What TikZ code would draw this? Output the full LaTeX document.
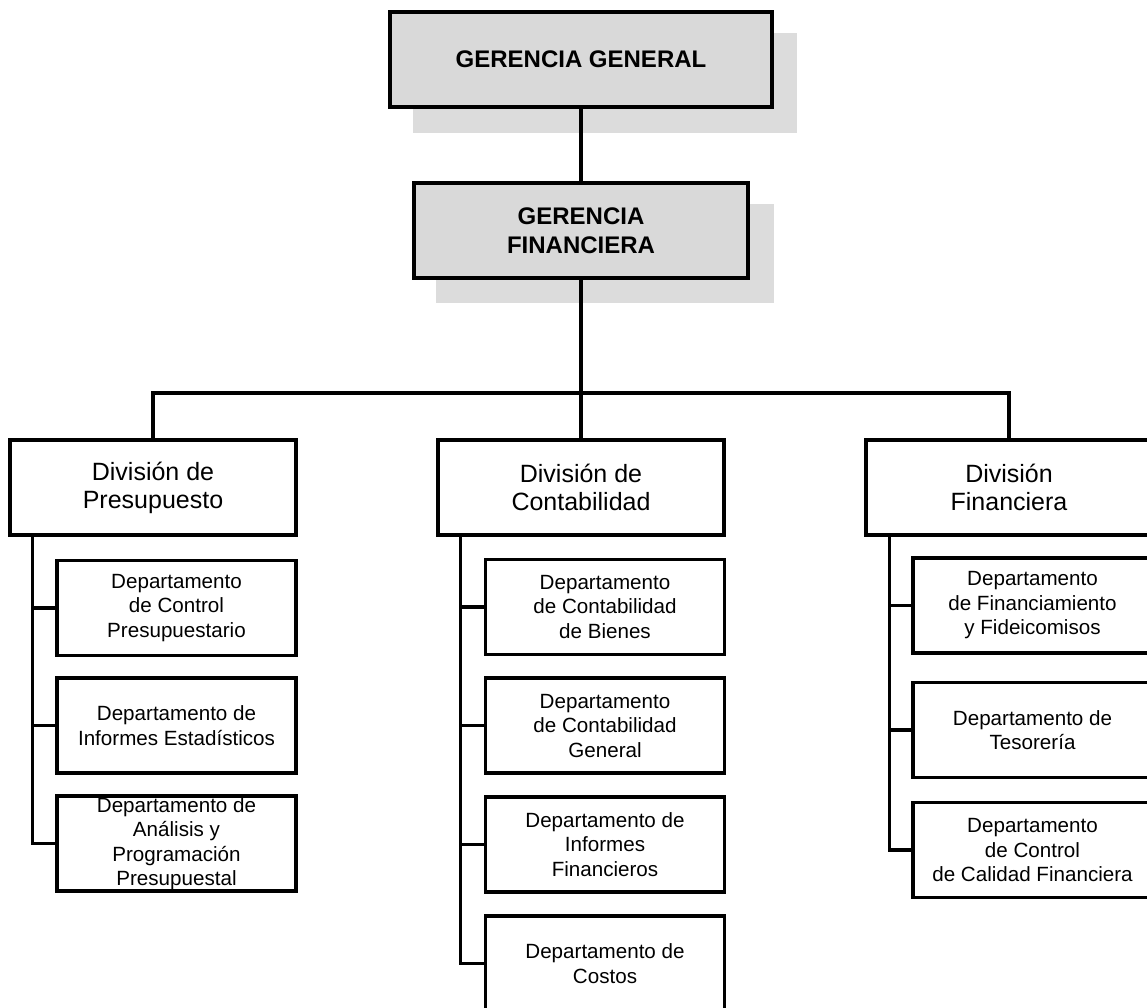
\documentclass[tikz,border=0pt]{standalone}
\usepackage{fontspec}
\setmainfont{Liberation Sans}
\usetikzlibrary{calc}
\definecolor{boxgray}{HTML}{D9D9D9}
\definecolor{shadowgray}{HTML}{DCDCDC}
\tikzset{
  line/.style={line width=3.3pt},
  gerbox/.style={draw, line width=3.3pt, fill=boxgray, inner sep=0pt, align=center,
    font=\fontsize{24}{29}\selectfont\bfseries},
  divbox/.style={draw, line width=3.3pt, fill=white, inner sep=0pt, align=center,
    minimum width=286pt, minimum height=95pt, font=\fontsize{25}{28}\selectfont},
  deptbox/.style={draw, line width=3.3pt, fill=white, inner sep=0pt, align=center,
    minimum width=239pt, minimum height=95pt, font=\fontsize{20.6}{24.5}\selectfont},
}
\begin{document}
\begin{tikzpicture}[x=1pt,y=-1pt]
\useasboundingbox (0,0) rectangle (1147,1007);
\clip (0,0) rectangle (1147,1007);
% shadows
\fill[shadowgray] (413,33) rectangle (797,133);
\fill[shadowgray] (436,204) rectangle (774,303);
% top boxes
\node[gerbox, minimum width=382pt, minimum height=95pt] (gg) at (581,59.5) {GERENCIA GENERAL};
\node[gerbox, minimum width=334pt, minimum height=95pt] (gf) at (581,230.5) {GERENCIA\\FINANCIERA};
% divisions
\node[divbox] (d1) at (153,487.5) {División de\\Presupuesto};
\node[divbox] (d2) at (581,487.5) {División de\\Contabilidad};
\node[divbox] (d3) at (1009,487.5) {División\\Financiera};
% departments, column 1
\node[deptbox] (p1) at (176.5,608) {Departamento\\de Control\\Presupuestario};
\node[deptbox] (p2) at (176.5,725.5) {Departamento de\\Informes Estadísticos};
\node[deptbox] (p3) at (176.5,843.5) {Departamento de\\Análisis y\\Programación\\Presupuestal};
% column 2
\node[deptbox] (c1) at (605,607) {Departamento\\de Contabilidad\\de Bienes};
\node[deptbox] (c2) at (605,725.5) {Departamento\\de Contabilidad\\General};
\node[deptbox] (c3) at (605,844.5) {Departamento de\\Informes\\Financieros};
\node[deptbox] (c4) at (605,963.5) {Departamento de\\Costos};
% column 3
\node[deptbox] (f1) at (1032.5,605.5) {Departamento\\de Financiamiento\\y Fideicomisos};
\node[deptbox] (f2) at (1032.5,730) {Departamento de\\Tesorería};
\node[deptbox] (f3) at (1032.5,850) {Departamento\\de Control\\de Calidad Financiera};
% connectors
\coordinate (bus) at (581,393);
\draw[line] (gg.south) -- (gf.north);
\draw[line] (gf.south) -- (d2.north);
\draw[line] (d1.north) |- (bus) -| (d3.north);
\coordinate (s1) at ($(d1.south west)+(24,0)$);
\coordinate (s2) at ($(d2.south west)+(24,0)$);
\coordinate (s3) at ($(d3.south west)+(25,0)$);
\draw[line] (s1) |- (p3.west);
\draw[line] (s1 |- p1.west) -- (p1.west);
\draw[line] (s1 |- p2.west) -- (p2.west);
\draw[line] (s2) |- (c4.west);
\draw[line] (s2 |- c1.west) -- (c1.west);
\draw[line] (s2 |- c2.west) -- (c2.west);
\draw[line] (s2 |- c3.west) -- (c3.west);
\draw[line] (s3) |- (f3.west);
\draw[line] (s3 |- f1.west) -- (f1.west);
\draw[line] (s3 |- f2.west) -- (f2.west);
\end{tikzpicture}
\end{document}
